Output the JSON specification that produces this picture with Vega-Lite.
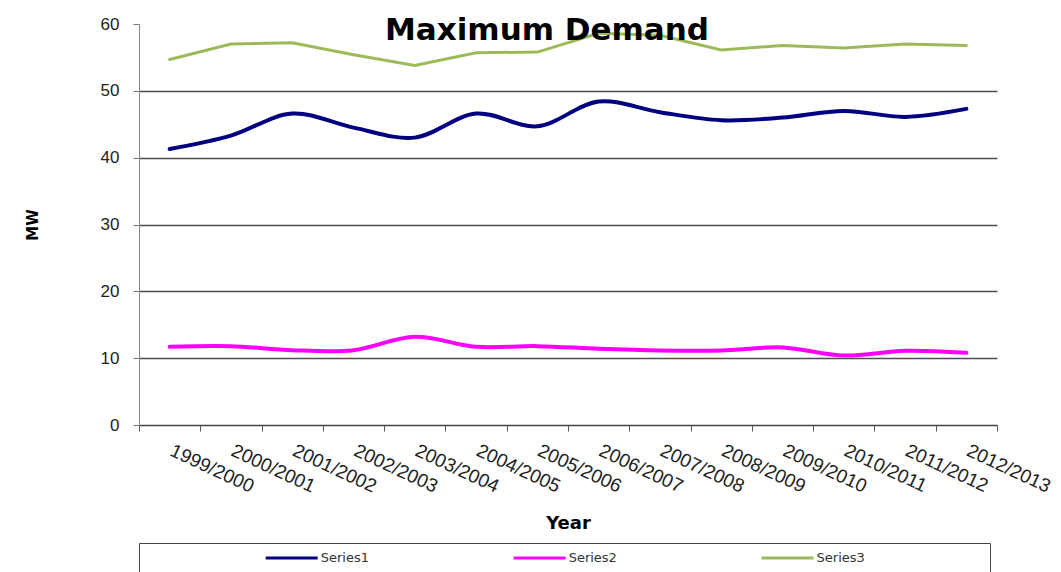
{
  "$schema": "https://vega.github.io/schema/vega-lite/v6.json",
  "padding": {"left": 25, "top": 15, "right": 0, "bottom": 0},
  "background": "white",
  "config": {"view": {"stroke": null}, "font": "Liberation Sans"},
  "datasets": {
    "demand": [
      {"year": "1999/2000", "series": "Series1", "value": 41.3},
      {"year": "2000/2001", "series": "Series1", "value": 43.3},
      {"year": "2001/2002", "series": "Series1", "value": 46.6},
      {"year": "2002/2003", "series": "Series1", "value": 44.5},
      {"year": "2003/2004", "series": "Series1", "value": 43.0},
      {"year": "2004/2005", "series": "Series1", "value": 46.6},
      {"year": "2005/2006", "series": "Series1", "value": 44.7},
      {"year": "2006/2007", "series": "Series1", "value": 48.4},
      {"year": "2007/2008", "series": "Series1", "value": 46.8},
      {"year": "2008/2009", "series": "Series1", "value": 45.6},
      {"year": "2009/2010", "series": "Series1", "value": 46.0},
      {"year": "2010/2011", "series": "Series1", "value": 47.0},
      {"year": "2011/2012", "series": "Series1", "value": 46.1},
      {"year": "2012/2013", "series": "Series1", "value": 47.3},
      {"year": "1999/2000", "series": "Series2", "value": 11.7},
      {"year": "2000/2001", "series": "Series2", "value": 11.8},
      {"year": "2001/2002", "series": "Series2", "value": 11.2},
      {"year": "2002/2003", "series": "Series2", "value": 11.2},
      {"year": "2003/2004", "series": "Series2", "value": 13.2},
      {"year": "2004/2005", "series": "Series2", "value": 11.7},
      {"year": "2005/2006", "series": "Series2", "value": 11.8},
      {"year": "2006/2007", "series": "Series2", "value": 11.4},
      {"year": "2007/2008", "series": "Series2", "value": 11.15},
      {"year": "2008/2009", "series": "Series2", "value": 11.15},
      {"year": "2009/2010", "series": "Series2", "value": 11.6},
      {"year": "2010/2011", "series": "Series2", "value": 10.4},
      {"year": "2011/2012", "series": "Series2", "value": 11.1},
      {"year": "2012/2013", "series": "Series2", "value": 10.8},
      {"year": "1999/2000", "series": "Series3", "value": 54.7},
      {"year": "2000/2001", "series": "Series3", "value": 57.0},
      {"year": "2001/2002", "series": "Series3", "value": 57.2},
      {"year": "2002/2003", "series": "Series3", "value": 55.4},
      {"year": "2003/2004", "series": "Series3", "value": 53.8},
      {"year": "2004/2005", "series": "Series3", "value": 55.7},
      {"year": "2005/2006", "series": "Series3", "value": 55.8},
      {"year": "2006/2007", "series": "Series3", "value": 58.6},
      {"year": "2007/2008", "series": "Series3", "value": 58.3},
      {"year": "2008/2009", "series": "Series3", "value": 56.1},
      {"year": "2009/2010", "series": "Series3", "value": 56.8},
      {"year": "2010/2011", "series": "Series3", "value": 56.4},
      {"year": "2011/2012", "series": "Series3", "value": 57.0},
      {"year": "2012/2013", "series": "Series3", "value": 56.8}
    ],
    "legendItems": [
      {"series": "Series1"},
      {"series": "Series2"},
      {"series": "Series3"}
    ]
  },
  "spacing": 118,
  "bounds": "flush",
  "vconcat": [
    {
      "width": 858,
      "height": 401,
      "data": {"name": "demand"},
      "title": {
        "text": "Maximum Demand",
        "font": "DejaVu Sans",
        "fontSize": 31,
        "fontWeight": "bold",
        "color": "#000000",
        "anchor": "middle",
        "frame": "group",
        "dx": -21,
        "offset": -32
      },
      "encoding": {
        "x": {
          "field": "year",
          "type": "ordinal",
          "scale": {"type": "band", "paddingInner": 0, "paddingOuter": 0},
          "axis": {
            "title": "Year",
            "labelAngle": 25,
            "labelAlign": "left",
            "labelBaseline": "top",
            "labelFontSize": 19,
            "labelFont": "Liberation Sans",
            "labelColor": "#222222",
            "labelPadding": 10,
            "labelOffset": 5,
            "labelOverlap": false,
            "labelBound": false,
            "tickBand": "extent",
            "tickSize": 6,
            "tickColor": "#555555",
            "domainColor": "#444444",
            "titleFont": "DejaVu Sans",
            "titleFontWeight": "bold",
            "titleFontSize": 18,
            "titleColor": "#000000",
            "titlePadding": 18
          }
        },
        "y": {
          "field": "value",
          "type": "quantitative",
          "scale": {"domain": [0, 60]},
          "axis": {
            "title": "MW",
            "values": [0, 10, 20, 30, 40, 50, 60],
            "labelFontSize": 17,
            "labelFont": "Liberation Sans",
            "labelColor": "#222222",
            "labelPadding": 14,
            "tickSize": 6,
            "tickColor": "#777777",
            "domainColor": "#888888",
            "gridColor": "#4d4d4d",
            "gridWidth": 1.3,
            "gridOpacity": {"condition": {"test": "datum.value === 60", "value": 0}, "value": 1},
            "titleFont": "DejaVu Sans",
            "titleFontSize": 15,
            "titleFontWeight": "bold",
            "titleColor": "#000000",
            "titlePadding": 60
          }
        },
        "color": {
          "field": "series",
          "type": "nominal",
          "scale": {"domain": ["Series1", "Series2", "Series3"], "range": ["#000080", "#ff00ff", "#9bbb59"]},
          "legend": null
        }
      },
      "layer": [
        {
          "transform": [{"filter": "datum.series !== 'Series3'"}],
          "mark": {"type": "line", "interpolate": "catmull-rom", "strokeWidth": 4, "strokeCap": "round"}
        },
        {
          "transform": [{"filter": "datum.series === 'Series3'"}],
          "mark": {"type": "line", "interpolate": "linear", "strokeWidth": 3, "strokeCap": "round"}
        }
      ]
    },
    {
      "width": 851,
      "height": 30,
      "data": {"name": "legendItems"},
      "view": {"stroke": "#444444", "strokeWidth": 1},
      "encoding": {
        "x": {
          "field": "series",
          "type": "nominal",
          "scale": {"type": "point", "padding": 0.716, "align": 0.43},
          "axis": null
        },
        "color": {
          "field": "series",
          "type": "nominal",
          "legend": null
        }
      },
      "layer": [
        {
          "mark": {"type": "point", "shape": "stroke", "size": 2704, "strokeWidth": 3, "filled": false, "opacity": 1}
        },
        {
          "mark": {"type": "text", "align": "left", "baseline": "middle", "dx": 29, "fontSize": 13, "font": "DejaVu Sans", "color": "#333333"},
          "encoding": {"text": {"field": "series"}, "color": {"value": "#333333"}}
        }
      ]
    }
  ]
}
